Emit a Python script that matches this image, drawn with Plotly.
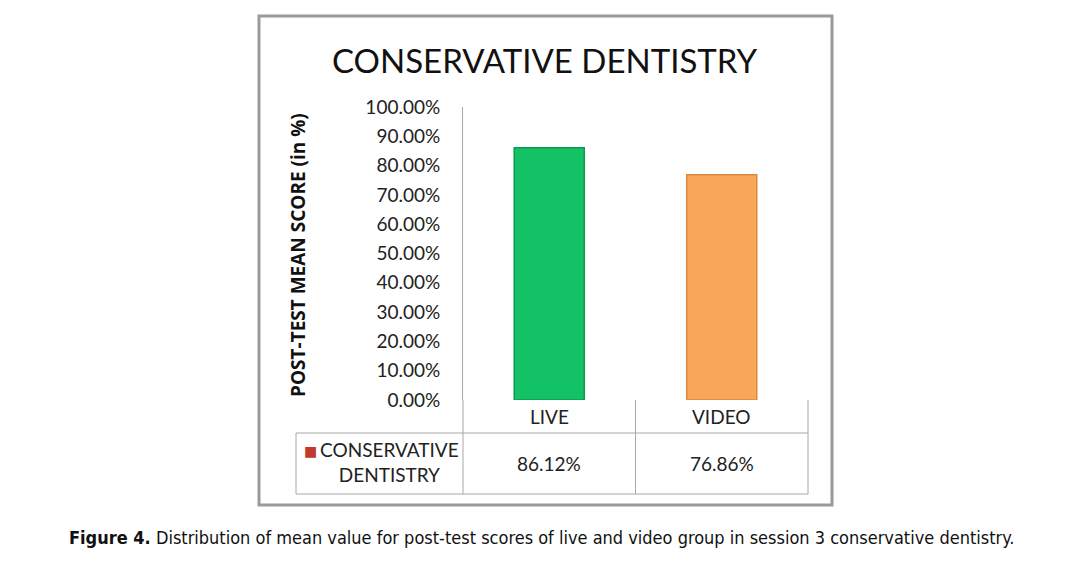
import plotly.graph_objects as go

categories = ["LIVE", "VIDEO"]
values = [0.8612, 0.7686]
series_name = "CONSERVATIVE<br>DENTISTRY"
bar_colors = ["#13C265", "#F9A65A"]
bar_lines = ["#0C9A4C", "#D98A40"]
title = "CONSERVATIVE DENTISTRY"
y_title = "POST-TEST MEAN SCORE (in %)"
caption_bold = "Figure 4."
caption_rest = " Distribution of mean value for post-test scores of live and video group in session 3 conservative dentistry."

OFF = 8  # page body margin
W, H = 1071, 567
L, R, T, B = 463, 808, 107, 400  # plot area in reference pixels

def px(x):
    return (x - L) / (R - L)

def py(y):
    return (B - y) / (B - T)

fig = go.Figure()
fig.add_trace(go.Bar(
    x=categories, y=values,
    marker=dict(color=bar_colors, line=dict(color=bar_lines, width=1.5)),
    showlegend=False, hoverinfo="skip",
))

font_main = "Lato, 'Open Sans', sans-serif"

shapes = []
shapes.append(dict(type="rect", xref="paper", yref="paper",
                   x0=px(259), x1=px(832), y0=py(16), y1=py(505),
                   line=dict(color="#9A9A9A", width=3), fillcolor="rgba(0,0,0,0)", layer="below"))
gl = dict(color="#A8A8A8", width=1)
for yy, x0 in [(433, 296), (494, 296)]:
    shapes.append(dict(type="line", xref="paper", yref="paper", x0=px(x0), x1=px(808),
                       y0=py(yy), y1=py(yy), line=gl))
shapes.append(dict(type="line", xref="paper", yref="paper", x0=px(296), x1=px(296),
                   y0=py(433), y1=py(494), line=gl))
for xx in [463, 635.5, 808]:
    shapes.append(dict(type="line", xref="paper", yref="paper", x0=px(xx), x1=px(xx),
                       y0=py(400), y1=py(494), line=gl))

annotations = []
annotations.append(dict(text=title, xref="paper", yref="paper", x=px(545), y=py(60),
                        showarrow=False, font=dict(family=font_main, size=33, color="#111111"),
                        xanchor="center", yanchor="middle"))
annotations.append(dict(text=f"<b>{y_title}</b>", xref="paper", yref="paper", x=px(298), y=py(255),
                        showarrow=False, textangle=-90,
                        font=dict(family="'Open Sans', sans-serif", size=19, color="#111111"),
                        xanchor="center", yanchor="middle"))
for c, v in zip(categories, values):
    annotations.append(dict(text=c, xref="x", yref="paper", x=c, y=py(416), showarrow=False,
                            font=dict(family=font_main, size=19, color="#222222"),
                            xanchor="center", yanchor="middle"))
    annotations.append(dict(text=f"{v*100:.2f}%", xref="x", yref="paper", x=c, y=py(463),
                            showarrow=False, font=dict(family=font_main, size=19, color="#222222"),
                            xanchor="center", yanchor="middle"))
annotations.append(dict(text=series_name, xref="paper", yref="paper", x=px(389), y=py(462),
                        showarrow=False, font=dict(family=font_main, size=19, color="#222222"),
                        xanchor="center", yanchor="middle", align="center"))
annotations.append(dict(text="■", xref="paper", yref="paper", x=px(310), y=py(451),
                        showarrow=False, font=dict(family="DejaVu Sans", size=14, color="#C0392E"),
                        xanchor="center", yanchor="middle"))
annotations.append(dict(text=f"<b>{caption_bold}</b>{caption_rest}", xref="paper", yref="paper",
                        x=px(67), y=py(537), showarrow=False,
                        font=dict(family="'Liberation Sans Narrow', 'DejaVu Sans Condensed', sans-serif",
                                  size=18, color="#111111"),
                        xanchor="left", yanchor="middle"))

fig.update_layout(
    width=W, height=H, autosize=False,
    margin=dict(l=L - OFF, r=W - R + OFF, t=T - OFF, b=H - B + OFF, pad=0),
    paper_bgcolor="white", plot_bgcolor="white",
    bargap=0.594,
    shapes=shapes, annotations=annotations,
    xaxis=dict(showticklabels=False, showgrid=False, zeroline=False, showline=False, ticks=""),
    yaxis=dict(range=[0, 1], dtick=0.1, tickformat=".2%", showgrid=False, zeroline=False,
               showline=True, linecolor="#A8A8A8", linewidth=1, ticks="", ticklen=0,
               ticklabelstandoff=18,
               tickfont=dict(family=font_main, size=19, color="#222222")),
)
fig.write_html("out.html")
